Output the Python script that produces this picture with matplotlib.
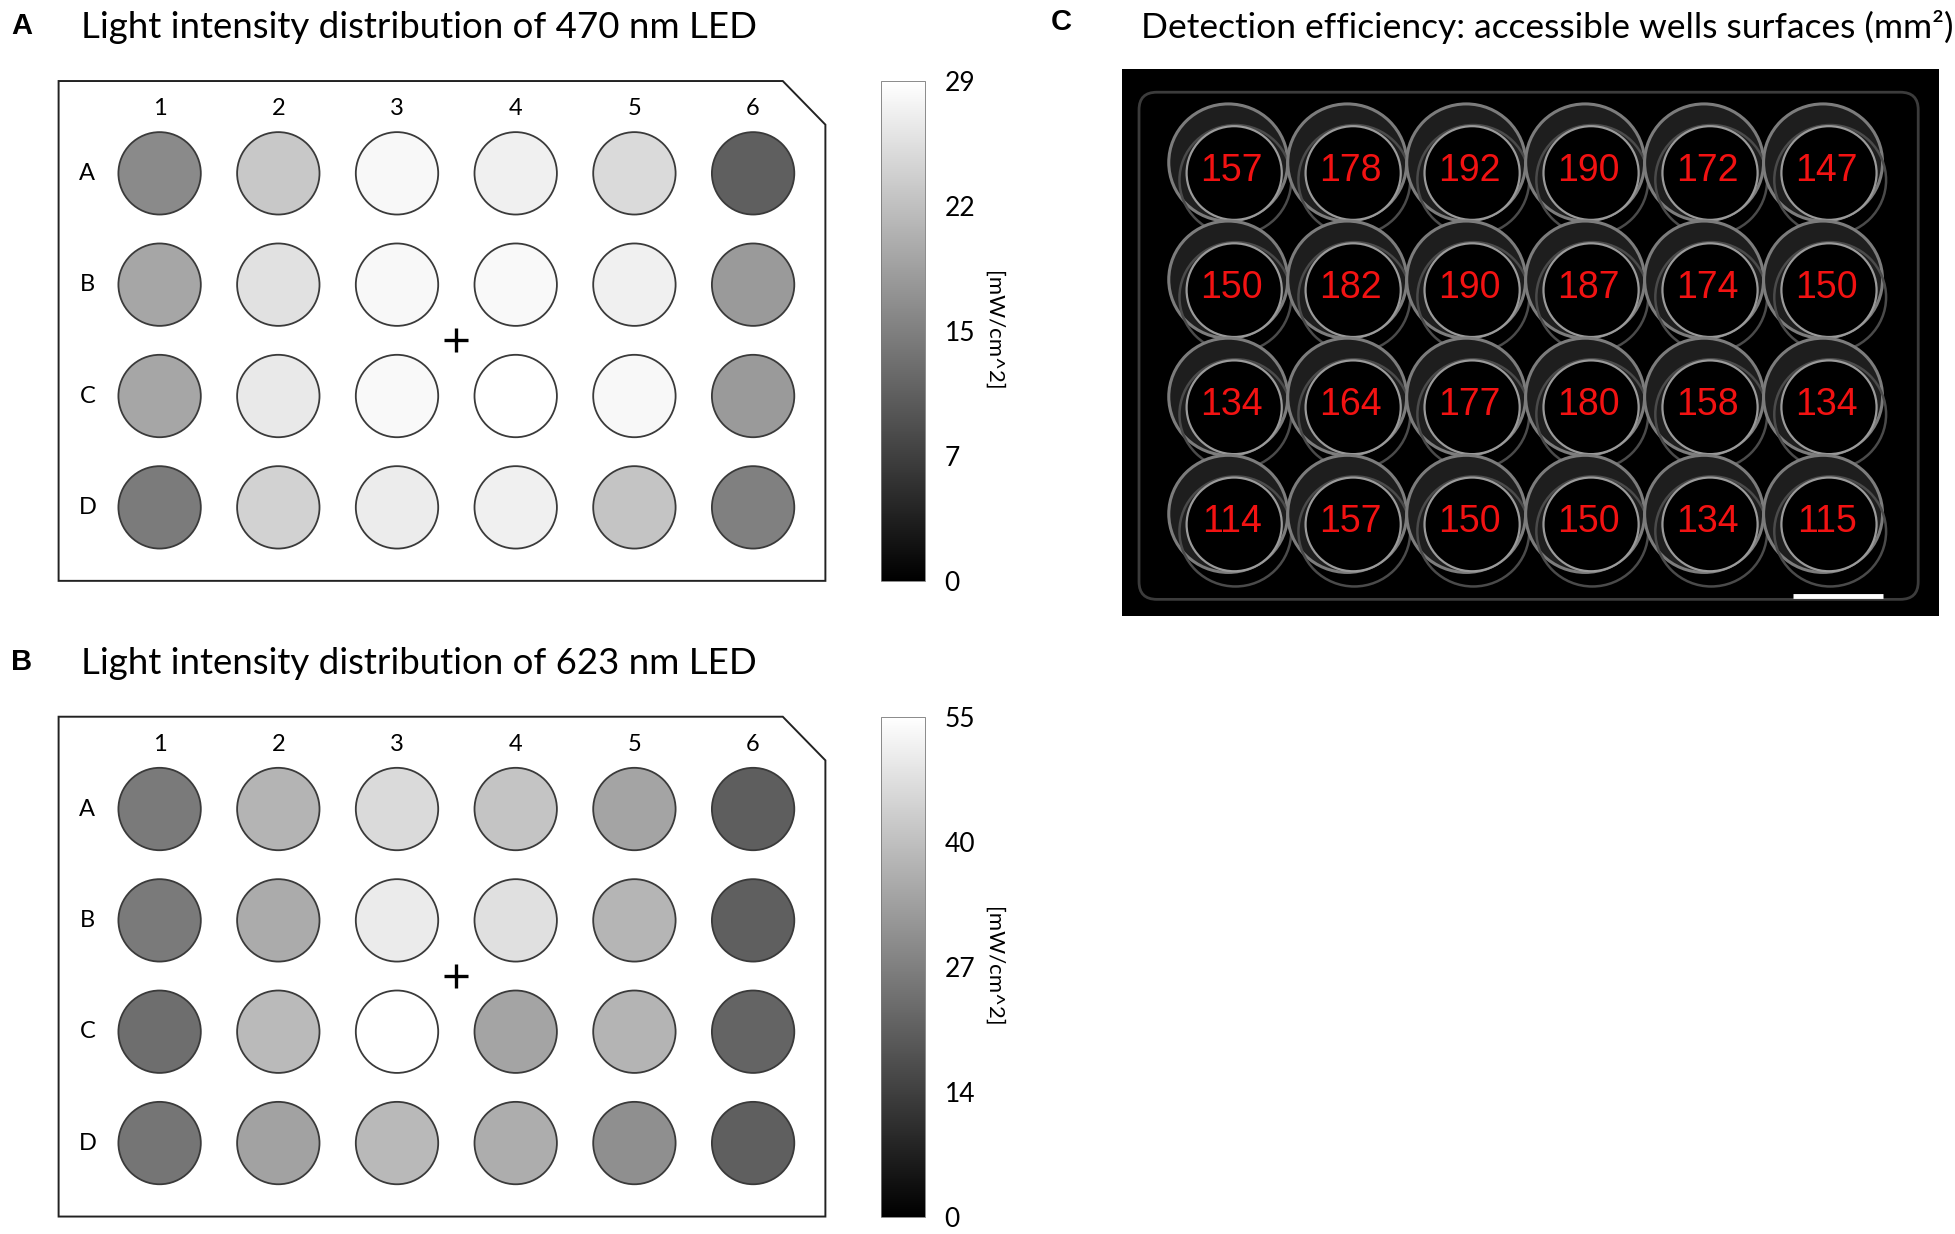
import numpy as np
import matplotlib
matplotlib.use("Agg")
import matplotlib.pyplot as plt
from matplotlib.patches import Circle, Polygon, FancyBboxPatch

cols = ["1", "2", "3", "4", "5", "6"]
rows = ["A", "B", "C", "D"]

# light intensity per well (mW/cm^2)
led470 = [
    [15.7, 22.7, 28.2, 27.3, 24.8, 10.8],
    [18.9, 25.5, 28.2, 28.3, 27.2, 17.5],
    [18.9, 26.4, 28.3, 29.0, 28.1, 17.5],
    [14.0, 23.9, 26.8, 27.2, 22.3, 14.6],
]
led623 = [
    [26.4, 38.8, 47.0, 42.3, 35.3, 20.3],
    [26.4, 36.9, 50.7, 48.3, 39.0, 20.5],
    [23.7, 40.1, 55.0, 35.3, 38.8, 21.6],
    [25.3, 34.9, 39.8, 37.3, 30.8, 20.5],
]
max470 = 29
max623 = 55
ticks470 = ["0", "7", "15", "22", "29"]
ticks623 = ["0", "14", "27", "40", "55"]

# accessible well surfaces (mm^2)
surfaces = [
    [157, 178, 192, 190, 172, 147],
    [150, 182, 190, 187, 174, 150],
    [134, 164, 177, 180, 158, 134],
    [114, 157, 150, 150, 134, 115],
]

TXT = "Lato"
W, H = 1568.0, 990.0


def box(x0, y0, x1, y1):
    return [x0 / W, 1 - y1 / H, (x1 - x0) / W, (y1 - y0) / H]


fig = plt.figure(figsize=(19.55, 12.34), dpi=100)


def plate(top, letter, title, values, vmax, ticklabels):
    fig.text(9 / W, 1 - (top - 44) / H, letter, family="Liberation Sans",
             weight="bold", fontsize=21, va="center")
    fig.text(65 / W, 1 - (top - 43) / H, title, family=TXT, fontsize=26.4,
             va="center")

    ax = fig.add_axes(box(47, top, 662, top + 401))
    ax.set_xlim(0.149, 6.609)
    ax.set_ylim(4.66, 0.171)
    ax.axis("off")
    outline = Polygon([(0.149, 0.171), (6.25, 0.171), (6.609, 0.563),
                       (6.609, 4.66), (0.149, 4.66)], closed=True,
                      fill=False, ec="#222222", lw=1.4, clip_on=False)
    ax.add_patch(outline)

    xx, yy = np.meshgrid(np.arange(1, len(cols) + 1), np.arange(1, len(rows) + 1))
    sc = ax.scatter(xx.ravel(), yy.ravel(), c=np.ravel(values), cmap="gray",
                    vmin=0, vmax=vmax, s=3520, edgecolors="#3a3a3a",
                    linewidths=1.3)
    for j, c in enumerate(cols):
        ax.text(j + 1, 0.418, c, ha="center", va="center", family=TXT, fontsize=17)
    for i, r in enumerate(rows):
        ax.text(0.391, i + 1, r, ha="center", va="center", family=TXT, fontsize=17)
    ax.plot(3.5, 2.5, marker="+", ms=17, mew=2.4, color="black")

    cax = fig.add_axes(box(707, top, 742, top + 401))
    cb = fig.colorbar(sc, cax=cax)
    cb.set_ticks(np.linspace(0, vmax, 5))
    cb.set_ticklabels(ticklabels)
    cax.tick_params(length=0, pad=14, labelsize=19)
    for t in cax.get_yticklabels():
        t.set_family(TXT)
    cb.outline.set_linewidth(0.6)
    cb.outline.set_edgecolor("#777777")
    cb.set_label("[mW/cm^2]", rotation=270, labelpad=20, family=TXT, fontsize=16)


plate(65, "A", "Light intensity distribution of 470 nm LED", led470, max470, ticks470)
plate(575, "B", "Light intensity distribution of 623 nm LED", led623, max623, ticks623)

# panel C: plate photograph with surfaces
fig.text(843 / W, 1 - 18 / H, "C", family="Liberation Sans", weight="bold",
         fontsize=21, va="center")
fig.text(915 / W, 1 - 22 / H, "Detection efficiency: accessible wells surfaces (mm²)",
         family=TXT, fontsize=25.5, va="center")

axc = fig.add_axes(box(900, 55, 1555, 494))
axc.set_facecolor("black")
axc.set_xlim(0.078, 6.943)
axc.set_ylim(4.80, 0.128)
axc.set_xticks([])
axc.set_yticks([])
for s in axc.spines.values():
    s.set_visible(False)

axc.add_patch(FancyBboxPatch((0.22, 0.33), 6.55, 4.33,
                             boxstyle="round,pad=0,rounding_size=0.15",
                             fill=False, ec="#3c3c3c", lw=2))
for i in range(len(rows)):
    for j in range(len(cols)):
        x, y = j + 1, i + 1
        # top rim, plastic wall, then well bottom
        axc.add_patch(Circle((x - 0.03, y - 0.07), 0.5, fc="#1e1e1e",
                             ec="#7c7c7c", lw=2.2))
        axc.add_patch(Circle((x + 0.03, y + 0.08), 0.47, fill=False,
                             ec="#4a4a4a", lw=1.8))
        axc.add_patch(Circle((x + 0.02, y + 0.02), 0.40, fc="black",
                             ec="#9a9a9a", lw=1.6))
        axc.text(x, y, str(surfaces[i][j]), color="#f21212", fontsize=27,
                 family=["Liberation Sans Narrow", "Liberation Sans"],
                 ha="center", va="center")
axc.plot([5.717, 6.472], [4.628, 4.628], color="white", lw=3.5,
         solid_capstyle="butt")

fig.savefig("out.png", dpi=100, facecolor="white")
